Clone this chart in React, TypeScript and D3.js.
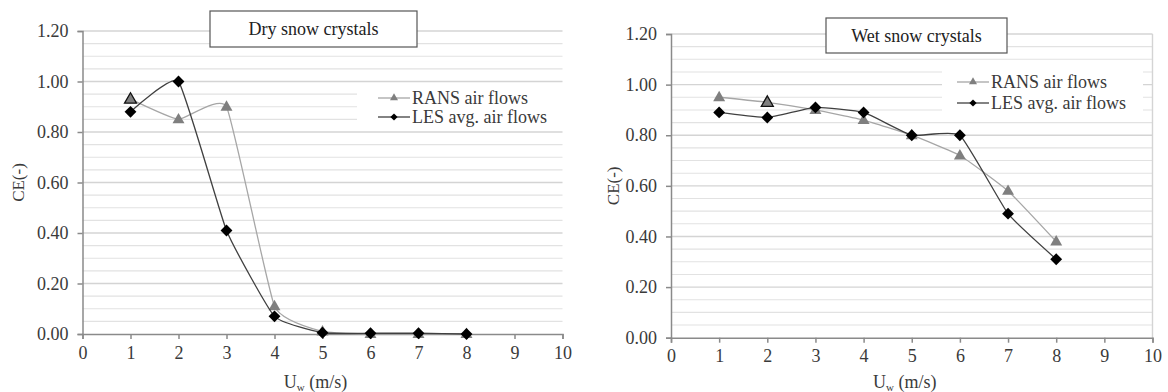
import React, { useEffect, useRef } from "react";
import * as d3 from "d3";

// wind speed values (m/s)
const windSpeeds = [1, 2, 3, 4, 5, 6, 7, 8];

// Dry snow crystals
const dryRans = [0.93, 0.85, 0.9, 0.11, 0.01, 0.0, 0.0, 0.0];
const dryLes = [0.88, 1.0, 0.41, 0.07, 0.005, 0.003, 0.003, 0.0];
const dryRansOutlined = [1];

// Wet snow crystals
const wetRans = [0.95, 0.93, 0.9, 0.86, 0.8, 0.72, 0.58, 0.38];
const wetLes = [0.89, 0.87, 0.91, 0.89, 0.8, 0.8, 0.49, 0.31];
const wetRansOutlined = [2];

const yTicks = [0, 0.2, 0.4, 0.6, 0.8, 1.0, 1.2];
const xTicks = [0, 1, 2, 3, 4, 5, 6, 7, 8, 9, 10];
const seriesNames = ["RANS air flows", "LES avg. air flows"];

const FONT = "Liberation Serif, Times New Roman, serif";

type PanelCfg = {
  title: string;
  rans: number[];
  les: number[];
  outlined: number[];
  x0: number;
  x1: number;
  y0: number;
  y1: number;
  titleBox: [number, number, number, number];
  legendBox: [number, number, number, number];
  legendX: number;
  legendY: number;
  legendGap: number;
  yLabelX: number;
  rightBorder: boolean;
};

const drawPanel = (root: any, cfg: PanelCfg) => {
  const g = root.append("g");
  const x = d3.scaleLinear().domain([0, 10]).range([cfg.x0, cfg.x1]);
  const y = d3.scaleLinear().domain([0, 1.2]).range([cfg.y0, cfg.y1]);

  // gridlines every 0.05
  const grid = d3.range(1, 25).map(i => i * 0.05);
  g.selectAll("line.grid")
    .data(grid)
    .enter()
    .append("line")
    .attr("x1", cfg.x0)
    .attr("x2", cfg.x1)
    .attr("y1", d => y(d))
    .attr("y2", d => y(d))
    .attr("stroke", (d, i) => ((i + 1) % 4 === 0 ? "#d4d4d4" : "#e2e2e2"))
    .attr("stroke-width", (d, i) => ((i + 1) % 4 === 0 ? 1.4 : 1.1));

  if (cfg.rightBorder) {
    g.append("line")
      .attr("x1", cfg.x1)
      .attr("x2", cfg.x1)
      .attr("y1", y(1.2))
      .attr("y2", y(0))
      .attr("stroke", "#d4d4d4")
      .attr("stroke-width", 1.4);
  }

  // y axis
  const yAxis = g
    .append("g")
    .attr("transform", `translate(${cfg.x0},0)`)
    .call(d3.axisLeft(y).tickValues(yTicks).tickFormat(d3.format(".2f")).tickSize(5).tickPadding(9));
  yAxis.attr("font-family", null);
  yAxis.select(".domain").attr("stroke", "#8a8a8a").attr("stroke-width", 1.5);
  yAxis.selectAll(".tick line").attr("stroke", "#8a8a8a").attr("stroke-width", 1.5);
  yAxis.selectAll("text").style("font-family", FONT).style("font-size", "18px").attr("fill", "#3a3a3a");

  // x axis
  const xAxis = g
    .append("g")
    .attr("transform", `translate(0,${cfg.y0})`)
    .call(d3.axisBottom(x).tickValues(xTicks).tickFormat(d3.format("d")).tickSize(5).tickPadding(7));
  xAxis.attr("font-family", null);
  xAxis.select(".domain").attr("stroke", "#8a8a8a").attr("stroke-width", 1.5);
  xAxis.selectAll(".tick line").attr("stroke", "#8a8a8a").attr("stroke-width", 1.5);
  xAxis.selectAll("text").style("font-family", FONT).style("font-size", "18px").attr("fill", "#3a3a3a");

  // axis titles
  g.append("text")
    .attr("transform", `translate(${cfg.yLabelX},${(cfg.y0 + cfg.y1) / 2}) rotate(-90)`)
    .attr("text-anchor", "middle")
    .attr("dominant-baseline", "central")
    .style("font-family", FONT)
    .style("font-size", "17px")
    .attr("fill", "#3a3a3a")
    .text("CE(-)");

  const xl = g
    .append("text")
    .attr("x", (cfg.x0 + cfg.x1) / 2 - 7)
    .attr("y", 388)
    .attr("text-anchor", "middle")
    .style("font-family", FONT)
    .style("font-size", "18px")
    .attr("fill", "#3a3a3a");
  xl.append("tspan").text("U");
  xl.append("tspan").style("font-size", "11px").attr("dy", 3).text("w");
  xl.append("tspan").attr("dy", -3).text(" (m/s)");

  // lines
  const line = d3
    .line<number>()
    .x((d, i) => x(windSpeeds[i]))
    .y(d => y(d))
    .curve(d3.curveCardinal.tension(0.6));

  g.append("path")
    .attr("d", line(cfg.rans))
    .attr("fill", "none")
    .attr("stroke", "#a6a6a6")
    .attr("stroke-width", 1.3);

  const tri = d3.symbol().type(d3.symbolTriangle).size(62);
  g.selectAll("path.rans")
    .data(cfg.rans)
    .enter()
    .append("path")
    .attr("d", tri)
    .attr("transform", (d, i) => `translate(${x(windSpeeds[i])},${y(d) + 0.5})`)
    .attr("fill", "#7f7f7f")
    .attr("stroke", (d, i) => (cfg.outlined.includes(windSpeeds[i]) ? "#111" : "none"))
    .attr("stroke-width", 1.3);

  g.append("path")
    .attr("d", line(cfg.les))
    .attr("fill", "none")
    .attr("stroke", "#404040")
    .attr("stroke-width", 1.3);

  const dia = d3.symbol().type(d3.symbolSquare).size(70);
  g.selectAll("path.les")
    .data(cfg.les)
    .enter()
    .append("path")
    .attr("d", dia)
    .attr("transform", (d, i) => `translate(${x(windSpeeds[i])},${y(d)}) rotate(45)`)
    .attr("fill", "#000");

  // legend
  const [lbx, lby, lbw, lbh] = cfg.legendBox;
  g.append("rect").attr("x", lbx).attr("y", lby).attr("width", lbw).attr("height", lbh).attr("fill", "#fff");
  seriesNames.forEach((name, i) => {
    const ly = cfg.legendY + i * cfg.legendGap;
    const lx = cfg.legendX;
    g.append("line")
      .attr("x1", lx)
      .attr("x2", lx + 32)
      .attr("y1", ly)
      .attr("y2", ly)
      .attr("stroke", i === 0 ? "#a6a6a6" : "#404040")
      .attr("stroke-width", 1.3);
    g.append("path")
      .attr("d", i === 0 ? d3.symbol().type(d3.symbolTriangle).size(28)() : d3.symbol().type(d3.symbolSquare).size(26)())
      .attr("transform", `translate(${lx + 16},${ly}) rotate(${i === 0 ? 0 : 45})`)
      .attr("fill", i === 0 ? "#7f7f7f" : "#000");
    g.append("text")
      .attr("x", lx + 34)
      .attr("y", ly)
      .attr("dominant-baseline", "central")
      .style("font-family", FONT)
      .style("font-size", "18px")
      .attr("fill", "#3a3a3a")
      .text(name);
  });

  // title box
  const [tx, ty, tw, th] = cfg.titleBox;
  g.append("rect")
    .attr("x", tx)
    .attr("y", ty)
    .attr("width", tw)
    .attr("height", th)
    .attr("fill", "#fff")
    .attr("stroke", "#555")
    .attr("stroke-width", 1.2);
  g.append("text")
    .attr("x", tx + tw / 2)
    .attr("y", ty + th / 2)
    .attr("text-anchor", "middle")
    .attr("dominant-baseline", "central")
    .style("font-family", FONT)
    .style("font-size", "18px")
    .attr("fill", "#222")
    .text(cfg.title);
};

const App = () => {
  const ref = useRef<SVGSVGElement>(null);

  useEffect(() => {
    const svg = d3.select(ref.current);
    svg.selectAll("*").remove();
    const root = svg.append("g");

    drawPanel(root, {
      title: "Dry snow crystals",
      rans: dryRans,
      les: dryLes,
      outlined: dryRansOutlined,
      x0: 82.5,
      x1: 562.5,
      y0: 334,
      y1: 31,
      titleBox: [210, 11, 207, 36],
      legendBox: [357, 86, 206, 41],
      legendX: 378,
      legendY: 98,
      legendGap: 19,
      yLabelX: 18,
      rightBorder: false,
    });

    drawPanel(root, {
      title: "Wet snow crystals",
      rans: wetRans,
      les: wetLes,
      outlined: wetRansOutlined,
      x0: 671,
      x1: 1152.5,
      y0: 337.7,
      y1: 34,
      titleBox: [826, 18, 181, 35],
      legendBox: [942, 66, 201, 50],
      legendX: 957,
      legendY: 82,
      legendGap: 21,
      yLabelX: 613,
      rightBorder: true,
    });
  }, []);

  return (
    <svg
      ref={ref}
      width={1168}
      height={392}
      style={{ position: "absolute", left: 0, top: 0, background: "#fff" }}
    />
  );
};

export default App;
